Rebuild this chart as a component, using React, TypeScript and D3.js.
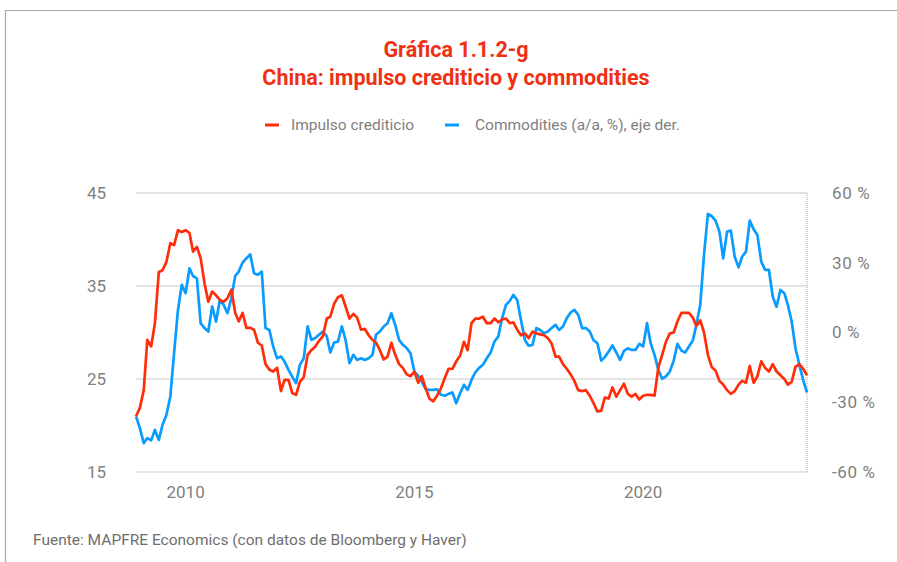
import React from "react";
import * as d3 from "d3";

const startMonth = new Date(2008, 11, 1);
const endMonth = new Date(2023, 7, 1);

const creditImpulse: number[] = [
  21.0, 21.9, 23.8, 29.2, 28.5, 31.0, 36.5, 36.7, 37.6, 39.6,
  39.4, 41.0, 40.8, 41.0, 40.7, 38.7, 39.2, 38.0, 35.3, 33.3,
  34.4, 34.0, 33.5, 33.3, 33.7, 34.6, 32.1, 31.2, 32.1, 30.5,
  30.5, 30.3, 28.9, 28.6, 26.6, 26.0, 25.8, 26.2, 23.7, 24.9,
  24.9, 23.5, 23.3, 24.7, 25.2, 27.6, 28.1, 28.5, 29.1, 29.6,
  31.5, 31.7, 33.1, 33.8, 34.0, 32.8, 31.5, 32.0, 31.6, 30.3,
  30.4, 29.7, 29.2, 28.9, 28.1, 27.1, 27.4, 28.9, 27.6, 26.6,
  26.2, 25.5, 25.3, 25.8, 24.6, 25.3, 24.0, 22.9, 22.6, 23.2,
  24.0, 25.1, 26.1, 26.1, 26.9, 27.5, 29.0, 28.1, 31.0, 31.5,
  31.5, 31.7, 31.0, 31.0, 31.5, 31.1, 31.4, 31.5, 31.0, 31.1,
  30.3, 29.7, 29.9, 29.4, 30.1, 29.9, 29.8, 29.7, 29.4, 28.8,
  27.4, 27.4, 26.6, 26.1, 25.5, 24.8, 23.8, 23.7, 23.8, 23.2,
  22.4, 21.5, 21.6, 23.0, 22.9, 24.1, 23.1, 23.8, 24.5, 23.4,
  23.1, 23.4, 22.8, 23.2, 23.3, 23.3, 23.2, 26.2, 27.6, 29.0,
  29.9, 30.0, 31.2, 32.1, 32.1, 32.1, 31.6, 30.7, 31.3, 30.0,
  27.6, 26.3, 25.9, 24.8, 24.4, 23.8, 23.4, 23.7, 24.4, 24.8,
  24.6, 26.4, 24.6, 25.3, 26.9, 26.2, 25.8, 26.6, 25.8, 25.4,
  25.0, 24.4, 24.7, 26.3, 26.6, 26.1, 25.4,
];

const commodities: number[] = [
  -36.1, -41.1, -47.6, -45.4, -46.4, -41.9, -46.2, -39.7, -35.4, -27.5,
  -8.9, 9.7, 20.5, 16.9, 27.6, 24.3, 23.3, 4.0, 1.9, 0.4,
  11.2, 4.7, 14.0, 11.9, 8.3, 14.7, 24.3, 26.2, 30.1, 31.9,
  33.6, 25.5, 24.8, 26.2, 1.9, 1.1, -6.0, -11.1, -10.3, -12.5,
  -16.1, -19.0, -21.8, -13.9, -11.1, 2.6, -3.2, -2.4, -1.0, 0.4,
  -1.7, -8.6, -4.3, -3.9, 2.6, -3.2, -13.2, -9.6, -11.8, -11.1,
  -11.8, -11.1, -9.6, -1.0, 0.4, 2.6, 4.0, 8.3, 3.3, -3.2,
  -5.3, -6.7, -8.9, -16.8, -18.7, -21.1, -24.4, -24.7, -24.7, -24.4,
  -26.8, -27.2, -26.4, -25.8, -30.4, -26.1, -22.5, -24.7, -20.4, -17.2,
  -15.2, -13.9, -11.1, -8.6, -3.9, -1.7, 6.1, 11.9, 13.6, 16.2,
  14.0, 5.4, -3.2, -5.7, -5.3, 1.9, 1.1, -0.3, 0.4, 1.9,
  3.3, 1.1, 2.6, 6.1, 8.6, 9.7, 7.6, 1.9, 1.9, 0.4,
  -3.3, -4.6, -12.1, -10.6, -8.2, -5.6, -8.6, -11.8, -7.9, -6.8,
  -7.5, -7.5, -4.9, -6.0, 4.0, -4.6, -9.6, -16.1, -19.9, -18.9,
  -16.8, -12.1, -4.9, -7.8, -8.6, -6.0, -3.4, 3.3, 11.9, 33.5,
  51.0, 50.1, 48.1, 43.4, 31.9, 43.4, 43.8, 32.6, 28.0, 32.6,
  34.8, 48.1, 44.4, 41.9, 30.5, 26.9, 26.9, 15.4, 11.1, 18.3,
  16.9, 11.9, 4.7, -6.8, -13.9, -20.4, -25.8,
];

const leftTicks = [15, 25, 35, 45];
const rightTicks = [-60, -30, 0, 30, 60];
const xTickYears = [2010, 2015, 2020];

const titleLines = ["Gráfica 1.1.2-g", "China: impulso crediticio y commodities"];
const legendLabels = ["Impulso crediticio", "Commodities (a/a, %), eje der."];
const sourceText = "Fuente: MAPFRE Economics (con datos de Bloomberg y Haver)";

const RED = "#ff2d0a";
const BLUE = "#0a9bff";
const GREY_TEXT = "#808080";
const FONT = "Roboto, 'DejaVu Sans', sans-serif";

export default function App() {
  const W = 897;
  const H = 562;
  const plot = { left: 136, right: 807, top: 193, bottom: 472 };

  const months = d3.timeMonth.range(startMonth, d3.timeMonth.offset(endMonth, 1));
  const x = d3.scaleTime().domain([startMonth, endMonth]).range([plot.left, plot.right]);
  const yL = d3.scaleLinear().domain([15, 45]).range([plot.bottom, plot.top]);
  const yR = d3.scaleLinear().domain([-60, 60]).range([plot.bottom, plot.top]);

  const redLine = d3
    .line<number>()
    .x((_, i) => x(months[i]))
    .y((d) => yL(d))(creditImpulse.slice(0, months.length));
  const blueLine = d3
    .line<number>()
    .x((_, i) => x(months[i]))
    .y((d) => yR(d))(commodities.slice(0, months.length));

  return (
    <div style={{ position: "absolute", left: 0, top: 0 }}>
      <svg width={W} height={H} style={{ display: "block", background: "#fff" }} fontFamily={FONT}>
        {/* frame */}
        <line x1={5.5} x2={W} y1={10.5} y2={10.5} stroke="#a6a6a6" strokeWidth={1.2} />
        <line x1={5.5} x2={5.5} y1={10} y2={H} stroke="#a6a6a6" strokeWidth={1.2} />

        {/* title */}
        <text x={456} y={57} textAnchor="middle" fontSize={21.5} fontWeight={700} fill="#ee3112">
          {titleLines[0]}
        </text>
        <text x={456} y={85} textAnchor="middle" fontSize={21.5} fontWeight={700} fill="#ee3112">
          {titleLines[1]}
        </text>

        {/* legend */}
        <line x1={265} x2={279} y1={125} y2={125} stroke={RED} strokeWidth={3} />
        <text x={291} y={130} fontSize={15.5} fill={GREY_TEXT}>{legendLabels[0]}</text>
        <line x1={445} x2={459} y1={125} y2={125} stroke={BLUE} strokeWidth={3} />
        <text x={475} y={130} fontSize={15.5} fill={GREY_TEXT}>{legendLabels[1]}</text>

        {/* gridlines */}
        {leftTicks.filter((t) => t !== 15).map((t) => (
          <line key={t} x1={plot.left} x2={plot.right} y1={yL(t)} y2={yL(t)} stroke="#c9c9c9" strokeWidth={1} />
        ))}
        <line x1={plot.left} x2={plot.right} y1={yL(15)} y2={yL(15)} stroke="#a0a0a0" strokeWidth={1} strokeDasharray="1 1" />
        <line x1={plot.right} x2={plot.right} y1={plot.top} y2={plot.bottom} stroke="#a0a0a0" strokeWidth={1} strokeDasharray="1 1" />

        {/* left axis */}
        {leftTicks.map((t) => (
          <text key={t} x={106} y={yL(t)} dy="0.35em" textAnchor="end" fontSize={17} fill={GREY_TEXT}>
            {t}
          </text>
        ))}
        {/* right axis */}
        {rightTicks.map((t) => (
          <text key={t} x={832} y={yR(t)} dy="0.35em" textAnchor="start" fontSize={17} fill={GREY_TEXT} letterSpacing={0.6}>
            {`${t} %`}
          </text>
        ))}
        {/* x axis */}
        {xTickYears.map((yr) => (
          <text key={yr} x={x(new Date(yr, 0, 1))} y={492} dy="0.35em" textAnchor="middle" fontSize={17} fill={GREY_TEXT}>
            {yr}
          </text>
        ))}

        {/* series */}
        <path d={blueLine || ""} fill="none" stroke={BLUE} strokeWidth={2.7} strokeLinejoin="round" />
        <path d={redLine || ""} fill="none" stroke={RED} strokeWidth={2.7} strokeLinejoin="round" />

        {/* source */}
        <text x={33} y={545} fontSize={15.5} fill="#6f6f6f">{sourceText}</text>
      </svg>
    </div>
  );
}
